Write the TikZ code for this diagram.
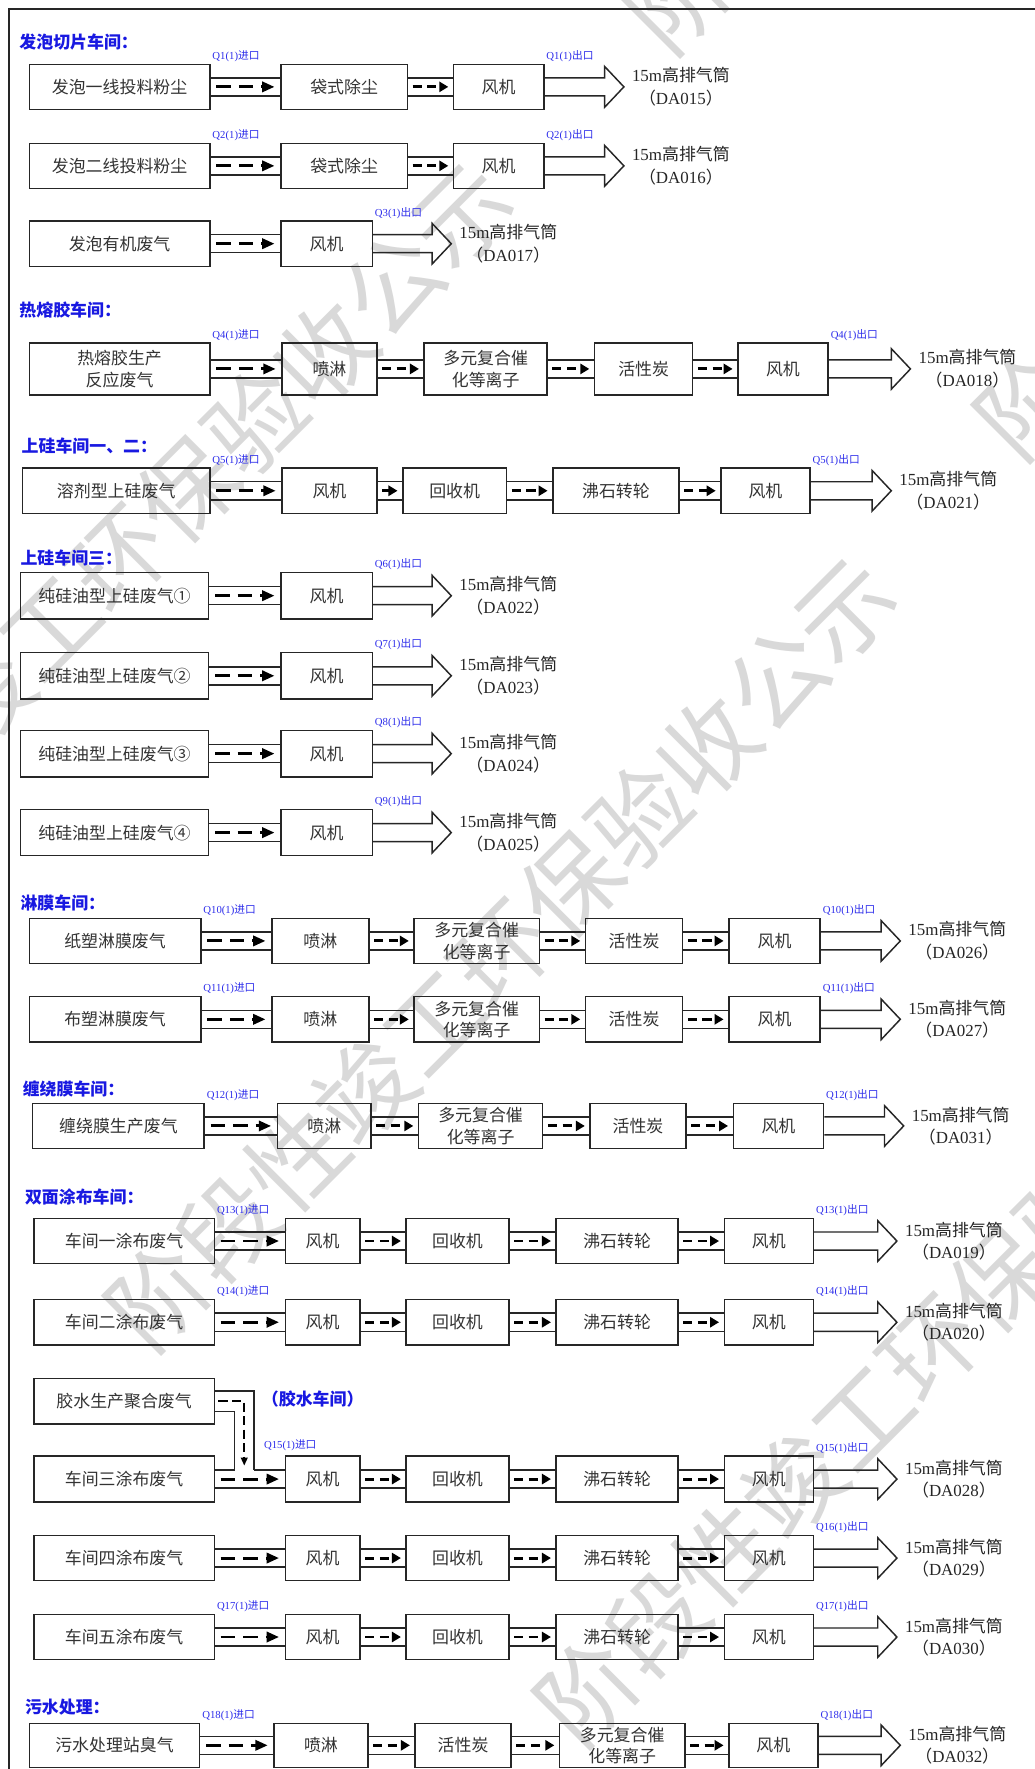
\documentclass[tikz,border=0pt]{standalone}
\usepackage{fontspec}
\setmainfont{Liberation Serif}
\newfontfamily\cjk{Noto Sans CJK SC}
\usetikzlibrary{arrows.meta}
\definecolor{tblue}{RGB}{25,25,225}
\definecolor{lblue}{RGB}{45,45,235}
\newcommand{\qlab}[2]{{\rmfamily Q#1(1)}{\cjk #2口}}
\newcommand{\stk}[1]{{\rmfamily 15m}{\cjk 高排气筒}\\{\cjk （}{\rmfamily DA0#1}{\cjk ）}}
\newcommand{\bxat}[6]{\pgfmathsetmacro\bxw{#3-#2}\pgfmathsetmacro\bxc{(#2+#3)/2}\node[bx,minimum width=\bxw pt,minimum height=#5pt] (#1) at (\bxc,#4) {#6};}
\newcommand{\pipe}[2]{\draw[pipeln] ([yshift=8pt]#1.east) -- ([yshift=8pt]#2.west); \draw[pipeln] ([yshift=-8pt]#1.east) -- ([yshift=-8pt]#2.west); \draw[dasharr] ([xshift=4pt]#1.east) -- ([xshift=-4pt]#2.west);}
\newcommand{\pipeL}[2]{\draw[pipeln] ([yshift=8pt]#1.east) -- ([yshift=8pt]#2.west); \draw[pipeln] ([yshift=-8pt]#1.east) -- ([yshift=-8pt]#2.west); \draw[dasharrL] ([xshift=5pt]#1.east) -- ([xshift=-5pt]#2.west);}
\newcommand{\bigarr}[2]{\draw[pipeln,line join=miter] ([yshift=8pt]#1.east) -- ([xshift=-17pt,yshift=8pt]#2) -- ([xshift=-17pt,yshift=18pt]#2) -- (#2) -- ([xshift=-17pt,yshift=-18pt]#2) -- ([xshift=-17pt,yshift=-8pt]#2) -- ([yshift=-8pt]#1.east);}
\newcommand{\lin}[2]{\node[qlabel,anchor=south west] (#1qi) at ([xshift=1pt,yshift=1pt]#1a.north east) {\qlab{#2}{进}};}
\newcommand{\lout}[3]{\node[qlabel,anchor=south west] (#1qo) at ([xshift=1pt,yshift=1pt]#1#3.north east) {\qlab{#2}{出}};}
\newcommand{\stack}[2]{\node[stk,anchor=west] (#1s) at ([xshift=7pt]#1t) {\stk{#2}};}
\begin{document}
\begin{tikzpicture}[x=1pt,y=-1pt,
  bx/.style={draw=black!85,line width=1.3pt,inner sep=0pt,font=\cjk\fontsize{15}{19}\selectfont,text=black!80,align=center},
  pipeln/.style={draw=black!85,line width=1.3pt},
  dasharr/.style={line width=2.6pt,dash pattern=on 8pt off 5pt,-{Triangle[length=8pt,width=9pt]}},
  dasharrL/.style={line width=2.6pt,dash pattern=on 13pt off 7pt,-{Triangle[length=11pt,width=9pt]}},
  dasharrb/.style={line width=1.4pt,dash pattern=on 8pt off 4pt,-{Triangle[length=7pt,width=6pt]}},
  qlabel/.style={font=\fontsize{9.5}{10}\selectfont,text=lblue,inner sep=0.5pt},
  stk/.style={font=\fontsize{15}{20}\selectfont,text=black!85,align=center,inner sep=0pt},
  ttl/.style={font=\cjk\bfseries\fontsize{15}{18}\selectfont,text=tblue,inner sep=0pt},
  wm/.style={font=\cjk\fontsize{86}{90}\selectfont,text=black!15,inner sep=0pt}]
\path[fill=white,use as bounding box] (0,0) rectangle (917,1568);
% watermark
\node[wm,rotate=45] (w1) at (105,495) {阶段性竣工环保验收公示};
\node[wm,rotate=45] (w2) at (905,-305) {阶段性竣工环保验收公示};
\node[wm,rotate=45] (w3) at (445,845) {阶段性竣工环保验收公示};
\node[wm,rotate=45] (w4) at (1215,55) {阶段性竣工环保验收公示};
\node[wm,rotate=45] (w5) at (825,1195) {阶段性竣工环保验收公示};
% frame
\draw[line width=1.3pt,black!85] (8,1568) -- (8,8) -- (917,8);
% titles
\node[ttl,anchor=west] (t1) at (17,37) {发泡切片车间：};
\node[ttl,anchor=west] (t2) at (17,275) {热熔胶车间：};
\node[ttl,anchor=west] (t3) at (19,395) {上硅车间一、二：};
\node[ttl,anchor=west] (t4) at (18,495) {上硅车间三：};
\node[ttl,anchor=west] (t5) at (18,800) {淋膜车间：};
\node[ttl,anchor=west] (t6) at (20,965) {缠绕膜车间：};
\node[ttl,anchor=west] (t7) at (22,1061) {双面涂布车间：};
\node[ttl,anchor=west] (t8) at (22,1513) {污水处理：};
% row 1
\bxat{r1a}{26}{186}{77}{40}{发泡一线投料粉尘}
\bxat{r1b}{249}{361}{77}{40}{袋式除尘}
\bxat{r1c}{402}{482}{77}{40}{风机}
\coordinate (r1t) at (553,77);
\pipeL{r1a}{r1b}\pipe{r1b}{r1c}\bigarr{r1c}{r1t}
\lin{r1}{1}\lout{r1}{1}{c}\stack{r1}{15}
% row 2
\bxat{r2a}{26}{186}{147}{40}{发泡二线投料粉尘}
\bxat{r2b}{249}{361}{147}{40}{袋式除尘}
\bxat{r2c}{402}{482}{147}{40}{风机}
\coordinate (r2t) at (553,147);
\pipeL{r2a}{r2b}\pipe{r2b}{r2c}\bigarr{r2c}{r2t}
\lin{r2}{2}\lout{r2}{2}{c}\stack{r2}{16}
% row 3
\bxat{r3a}{26}{186}{216}{40}{发泡有机废气}
\bxat{r3b}{249}{330}{216}{40}{风机}
\coordinate (r3t) at (400,216);
\pipeL{r3a}{r3b}\bigarr{r3b}{r3t}
\lout{r3}{3}{b}\stack{r3}{17}
% row 4
\bxat{r4a}{26}{186}{327}{46}{热熔胶生产\\反应废气}
\bxat{r4b}{250}{334}{327}{46}{喷淋}
\bxat{r4c}{376}{485}{327}{46}{多元复合催\\化等离子}
\bxat{r4d}{527}{614}{327}{46}{活性炭}
\bxat{r4e}{654}{734}{327}{46}{风机}
\coordinate (r4t) at (807,327);
\pipeL{r4a}{r4b}\pipe{r4b}{r4c}\pipe{r4c}{r4d}\pipe{r4d}{r4e}\bigarr{r4e}{r4t}
\lin{r4}{4}\lout{r4}{4}{e}\stack{r4}{18}
% row 5
\bxat{r5a}{20}{186}{435}{40}{溶剂型上硅废气}
\bxat{r5b}{250}{334}{435}{40}{风机}
\bxat{r5c}{357}{449}{435}{40}{回收机}
\bxat{r5d}{490}{602}{435}{40}{沸石转轮}
\bxat{r5e}{639}{718}{435}{40}{风机}
\coordinate (r5t) at (790,435);
\pipeL{r5a}{r5b}\pipe{r5b}{r5c}\pipe{r5c}{r5d}\pipe{r5d}{r5e}\bigarr{r5e}{r5t}
\lin{r5}{5}\lout{r5}{5}{e}\stack{r5}{21}
% rows 6-9
\bxat{r6a}{18}{185}{528}{41}{纯硅油型上硅废气①}
\bxat{r6b}{249}{330}{528}{41}{风机}
\coordinate (r6t) at (400,528);
\pipeL{r6a}{r6b}\bigarr{r6b}{r6t}\lout{r6}{6}{b}\stack{r6}{22}
\bxat{r7a}{18}{185}{599}{41}{纯硅油型上硅废气②}
\bxat{r7b}{249}{330}{599}{41}{风机}
\coordinate (r7t) at (400,599);
\pipeL{r7a}{r7b}\bigarr{r7b}{r7t}\lout{r7}{7}{b}\stack{r7}{23}
\bxat{r8a}{18}{185}{668}{41}{纯硅油型上硅废气③}
\bxat{r8b}{249}{330}{668}{41}{风机}
\coordinate (r8t) at (400,668);
\pipeL{r8a}{r8b}\bigarr{r8b}{r8t}\lout{r8}{8}{b}\stack{r8}{24}
\bxat{r9a}{18}{185}{738}{41}{纯硅油型上硅废气④}
\bxat{r9b}{249}{330}{738}{41}{风机}
\coordinate (r9t) at (400,738);
\pipeL{r9a}{r9b}\bigarr{r9b}{r9t}\lout{r9}{9}{b}\stack{r9}{25}
% row 10
\bxat{r10a}{26}{178}{834}{40}{纸塑淋膜废气}
\bxat{r10b}{241}{327}{834}{40}{喷淋}
\bxat{r10c}{367}{478}{834}{40}{多元复合催\\化等离子}
\bxat{r10d}{519}{605}{834}{40}{活性炭}
\bxat{r10e}{646}{727}{834}{40}{风机}
\coordinate (r10t) at (798,834);
\pipeL{r10a}{r10b}\pipe{r10b}{r10c}\pipe{r10c}{r10d}\pipe{r10d}{r10e}\bigarr{r10e}{r10t}
\lin{r10}{10}\lout{r10}{10}{e}\stack{r10}{26}
% row 11
\bxat{r11a}{26}{178}{903.5}{40}{布塑淋膜废气}
\bxat{r11b}{241}{327}{903.5}{40}{喷淋}
\bxat{r11c}{367}{478}{903.5}{40}{多元复合催\\化等离子}
\bxat{r11d}{519}{605}{903.5}{40}{活性炭}
\bxat{r11e}{646}{727}{903.5}{40}{风机}
\coordinate (r11t) at (798,903.5);
\pipeL{r11a}{r11b}\pipe{r11b}{r11c}\pipe{r11c}{r11d}\pipe{r11d}{r11e}\bigarr{r11e}{r11t}
\lin{r11}{11}\lout{r11}{11}{e}\stack{r11}{27}
% row 12
\bxat{r12a}{29}{181}{998}{40}{缠绕膜生产废气}
\bxat{r12b}{246}{329}{998}{40}{喷淋}
\bxat{r12c}{371}{481}{998}{40}{多元复合催\\化等离子}
\bxat{r12d}{523}{608}{998}{40}{活性炭}
\bxat{r12e}{650}{730}{998}{40}{风机}
\coordinate (r12t) at (801,998);
\pipeL{r12a}{r12b}\pipe{r12b}{r12c}\pipe{r12c}{r12d}\pipe{r12d}{r12e}\bigarr{r12e}{r12t}
\lin{r12}{12}\lout{r12}{12}{e}\stack{r12}{31}
% row 13
\bxat{r13a}{30}{190}{1100}{40}{车间一涂布废气}
\bxat{r13b}{253}{319}{1100}{40}{风机}
\bxat{r13c}{360}{451}{1100}{40}{回收机}
\bxat{r13d}{493}{601}{1100}{40}{沸石转轮}
\bxat{r13e}{642}{721}{1100}{40}{风机}
\coordinate (r13t) at (795,1100);
\pipeL{r13a}{r13b}\pipe{r13b}{r13c}\pipe{r13c}{r13d}\pipe{r13d}{r13e}\bigarr{r13e}{r13t}
\lin{r13}{13}\lout{r13}{13}{e}\stack{r13}{19}
% row 14
\bxat{r14a}{30}{190}{1172}{40}{车间二涂布废气}
\bxat{r14b}{253}{319}{1172}{40}{风机}
\bxat{r14c}{360}{451}{1172}{40}{回收机}
\bxat{r14d}{493}{601}{1172}{40}{沸石转轮}
\bxat{r14e}{642}{721}{1172}{40}{风机}
\coordinate (r14t) at (795,1172);
\pipeL{r14a}{r14b}\pipe{r14b}{r14c}\pipe{r14c}{r14d}\pipe{r14d}{r14e}\bigarr{r14e}{r14t}
\lin{r14}{14}\lout{r14}{14}{e}\stack{r14}{20}
% glue workshop
\bxat{g}{30}{190}{1242}{40}{胶水生产聚合废气}
\node[ttl,anchor=west] (gl) at (232,1240) {（胶水车间）};
% row 15
\bxat{r15a}{30}{190}{1311}{41}{车间三涂布废气}
\bxat{r15b}{253}{319}{1311}{41}{风机}
\bxat{r15c}{360}{451}{1311}{41}{回收机}
\bxat{r15d}{493}{601}{1311}{41}{沸石转轮}
\bxat{r15e}{642}{721}{1311}{41}{风机}
\coordinate (r15t) at (795,1311);
\coordinate (gjL) at (208,1303);
\coordinate (gjR) at (225,1303);
\coordinate (gjT) at (216.5,1299);
\draw[pipeln] ([yshift=9pt]g.east) -| (gjR);
\draw[pipeln] ([yshift=-9pt]g.east) -| (gjL);
\draw[pipeln] ([yshift=8pt]r15a.east) -- (gjL);
\draw[pipeln] (gjR) -- ([yshift=8pt]r15b.west);
\draw[pipeln] ([yshift=-8pt]r15a.east) -- ([yshift=-8pt]r15b.west);
\draw[dasharrb] ([xshift=3pt]g.east) -| (gjT);
\draw[dasharrL] ([xshift=5pt]r15a.east) -- ([xshift=-5pt]r15b.west);
\pipe{r15b}{r15c}\pipe{r15c}{r15d}\pipe{r15d}{r15e}\bigarr{r15e}{r15t}
\node[qlabel,anchor=south west] (r15qi) at ([xshift=-19pt,yshift=3pt]r15b.north west) {\qlab{15}{进}};
\lout{r15}{15}{e}\stack{r15}{28}
% row 16
\bxat{r16a}{30}{190}{1381}{40}{车间四涂布废气}
\bxat{r16b}{253}{319}{1381}{40}{风机}
\bxat{r16c}{360}{451}{1381}{40}{回收机}
\bxat{r16d}{493}{601}{1381}{40}{沸石转轮}
\bxat{r16e}{642}{721}{1381}{40}{风机}
\coordinate (r16t) at (795,1381);
\pipeL{r16a}{r16b}\pipe{r16b}{r16c}\pipe{r16c}{r16d}\pipe{r16d}{r16e}\bigarr{r16e}{r16t}
\lout{r16}{16}{e}\stack{r16}{29}
% row 17
\bxat{r17a}{30}{190}{1451}{40}{车间五涂布废气}
\bxat{r17b}{253}{319}{1451}{40}{风机}
\bxat{r17c}{360}{451}{1451}{40}{回收机}
\bxat{r17d}{493}{601}{1451}{40}{沸石转轮}
\bxat{r17e}{642}{721}{1451}{40}{风机}
\coordinate (r17t) at (795,1451);
\pipeL{r17a}{r17b}\pipe{r17b}{r17c}\pipe{r17c}{r17d}\pipe{r17d}{r17e}\bigarr{r17e}{r17t}
\lin{r17}{17}\lout{r17}{17}{e}\stack{r17}{30}
% row 18
\bxat{r18a}{26}{177}{1547}{39}{污水处理站臭气}
\bxat{r18b}{243}{326}{1547}{39}{喷淋}
\bxat{r18c}{368}{453}{1547}{39}{活性炭}
\bxat{r18d}{496}{607}{1547}{39}{多元复合催\\化等离子}
\bxat{r18e}{646}{725}{1547}{39}{风机}
\coordinate (r18t) at (798,1547);
\pipeL{r18a}{r18b}\pipe{r18b}{r18c}\pipe{r18c}{r18d}\pipe{r18d}{r18e}\bigarr{r18e}{r18t}
\lin{r18}{18}\lout{r18}{18}{e}\stack{r18}{32}
\end{tikzpicture}
\end{document}
